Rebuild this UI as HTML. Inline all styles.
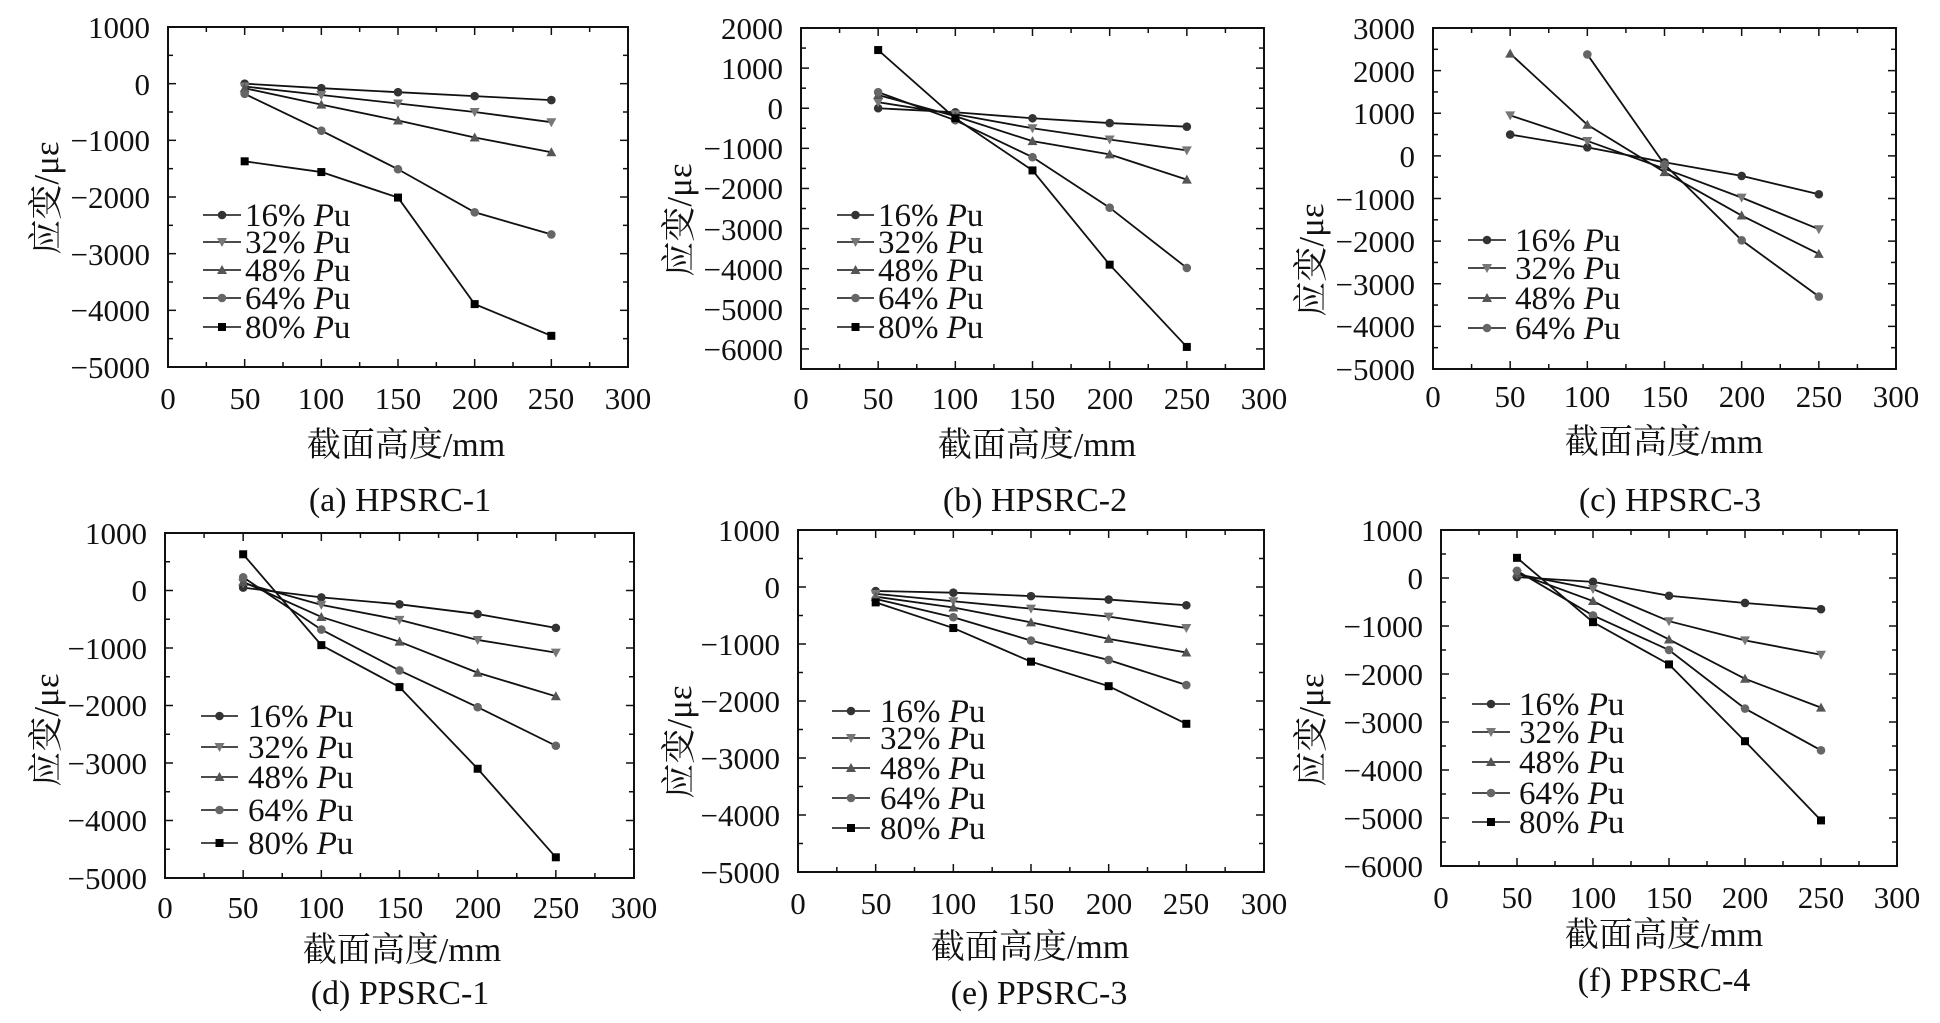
<!DOCTYPE html>
<html><head><meta charset="utf-8"><style>
html,body{margin:0;padding:0;background:#fff;}
svg{display:block;}
svg text{font-family:"Liberation Serif","Noto Serif CJK SC",serif;font-size:31px;fill:#111;}
svg text.e{text-anchor:end}svg text.m{text-anchor:middle}
svg text.lg{font-size:33px}svg text.tt{font-size:34px}svg text.cp{font-size:34px}svg text.yt{font-size:35px}
</style></head><body>
<svg id="s" width="1940" height="1023" viewBox="0 0 1940 1023" xmlns="http://www.w3.org/2000/svg" font-family="Liberation Serif, Noto Serif CJK SC, serif">
<g id="g"></g>
<!-- Panel a -->
<text class="e" x="150" y="38">1000</text><text class="e" x="150" y="95">0</text><text class="e" x="150" y="151">−1000</text><text class="e" x="150" y="208">−2000</text><text class="e" x="150" y="265">−3000</text><text class="e" x="150" y="321">−4000</text><text class="e" x="150" y="378">−5000</text>
<text class="m" x="168" y="409">0</text><text class="m" x="245" y="409">50</text><text class="m" x="321" y="409">100</text><text class="m" x="398" y="409">150</text><text class="m" x="475" y="409">200</text><text class="m" x="551" y="409">250</text><text class="m" x="628" y="409">300</text>
<text class="m tt" x="406" y="456">截面高度/mm</text><text class="m cp" x="400" y="511">(a) HPSRC-1</text>
<text class="m yt" transform="translate(58,198) rotate(-90)">应变/με</text>
<text class="lg" x="245" y="226">16% <tspan font-style="italic">P</tspan>u</text><text class="lg" x="245" y="253">32% <tspan font-style="italic">P</tspan>u</text><text class="lg" x="245" y="281">48% <tspan font-style="italic">P</tspan>u</text><text class="lg" x="245" y="309">64% <tspan font-style="italic">P</tspan>u</text><text class="lg" x="245" y="338">80% <tspan font-style="italic">P</tspan>u</text>
<!-- Panel b -->
<text class="e" x="783" y="39">2000</text><text class="e" x="783" y="79">1000</text><text class="e" x="783" y="119">0</text><text class="e" x="783" y="159">−1000</text><text class="e" x="783" y="199">−2000</text><text class="e" x="783" y="240">−3000</text><text class="e" x="783" y="280">−4000</text><text class="e" x="783" y="320">−5000</text><text class="e" x="783" y="360">−6000</text>
<text class="m" x="801" y="409">0</text><text class="m" x="878" y="409">50</text><text class="m" x="955" y="409">100</text><text class="m" x="1032" y="409">150</text><text class="m" x="1110" y="409">200</text><text class="m" x="1187" y="409">250</text><text class="m" x="1264" y="409">300</text>
<text class="m tt" x="1037" y="456">截面高度/mm</text><text class="m cp" x="1035" y="511">(b) HPSRC-2</text>
<text class="m yt" transform="translate(691,220) rotate(-90)">应变/με</text>
<text class="lg" x="878" y="226">16% <tspan font-style="italic">P</tspan>u</text><text class="lg" x="878" y="253">32% <tspan font-style="italic">P</tspan>u</text><text class="lg" x="878" y="281">48% <tspan font-style="italic">P</tspan>u</text><text class="lg" x="878" y="309">64% <tspan font-style="italic">P</tspan>u</text><text class="lg" x="878" y="338">80% <tspan font-style="italic">P</tspan>u</text>
<!-- Panel c -->
<text class="e" x="1415" y="39">3000</text><text class="e" x="1415" y="82">2000</text><text class="e" x="1415" y="124">1000</text><text class="e" x="1415" y="167">0</text><text class="e" x="1415" y="210">−1000</text><text class="e" x="1415" y="252">−2000</text><text class="e" x="1415" y="295">−3000</text><text class="e" x="1415" y="337">−4000</text><text class="e" x="1415" y="380">−5000</text>
<text class="m" x="1433" y="407">0</text><text class="m" x="1510" y="407">50</text><text class="m" x="1587" y="407">100</text><text class="m" x="1665" y="407">150</text><text class="m" x="1742" y="407">200</text><text class="m" x="1819" y="407">250</text><text class="m" x="1896" y="407">300</text>
<text class="m tt" x="1664" y="453">截面高度/mm</text><text class="m cp" x="1670" y="511">(c) HPSRC-3</text>
<text class="m yt" transform="translate(1323,260) rotate(-90)">应变/με</text>
<text class="lg" x="1515" y="251">16% <tspan font-style="italic">P</tspan>u</text><text class="lg" x="1515" y="279">32% <tspan font-style="italic">P</tspan>u</text><text class="lg" x="1515" y="309">48% <tspan font-style="italic">P</tspan>u</text><text class="lg" x="1515" y="339">64% <tspan font-style="italic">P</tspan>u</text>
<!-- Panel d -->
<text class="e" x="147" y="544">1000</text><text class="e" x="147" y="601">0</text><text class="e" x="147" y="659">−1000</text><text class="e" x="147" y="716">−2000</text><text class="e" x="147" y="774">−3000</text><text class="e" x="147" y="831">−4000</text><text class="e" x="147" y="889">−5000</text>
<text class="m" x="165" y="918">0</text><text class="m" x="243" y="918">50</text><text class="m" x="321" y="918">100</text><text class="m" x="400" y="918">150</text><text class="m" x="478" y="918">200</text><text class="m" x="556" y="918">250</text><text class="m" x="634" y="918">300</text>
<text class="m tt" x="402" y="961">截面高度/mm</text><text class="m cp" x="400" y="1004">(d) PPSRC-1</text>
<text class="m yt" transform="translate(58,730) rotate(-90)">应变/με</text>
<text class="lg" x="248" y="727">16% <tspan font-style="italic">P</tspan>u</text><text class="lg" x="248" y="758">32% <tspan font-style="italic">P</tspan>u</text><text class="lg" x="248" y="788">48% <tspan font-style="italic">P</tspan>u</text><text class="lg" x="248" y="821">64% <tspan font-style="italic">P</tspan>u</text><text class="lg" x="248" y="854">80% <tspan font-style="italic">P</tspan>u</text>
<!-- Panel e -->
<text class="e" x="780" y="541">1000</text><text class="e" x="780" y="598">0</text><text class="e" x="780" y="655">−1000</text><text class="e" x="780" y="712">−2000</text><text class="e" x="780" y="769">−3000</text><text class="e" x="780" y="826">−4000</text><text class="e" x="780" y="883">−5000</text>
<text class="m" x="798" y="914">0</text><text class="m" x="876" y="914">50</text><text class="m" x="953" y="914">100</text><text class="m" x="1031" y="914">150</text><text class="m" x="1109" y="914">200</text><text class="m" x="1186" y="914">250</text><text class="m" x="1264" y="914">300</text>
<text class="m tt" x="1030" y="958">截面高度/mm</text><text class="m cp" x="1039" y="1004">(e) PPSRC-3</text>
<text class="m yt" transform="translate(691,742) rotate(-90)">应变/με</text>
<text class="lg" x="880" y="722">16% <tspan font-style="italic">P</tspan>u</text><text class="lg" x="880" y="749">32% <tspan font-style="italic">P</tspan>u</text><text class="lg" x="880" y="779">48% <tspan font-style="italic">P</tspan>u</text><text class="lg" x="880" y="809">64% <tspan font-style="italic">P</tspan>u</text><text class="lg" x="880" y="839">80% <tspan font-style="italic">P</tspan>u</text>
<!-- Panel f -->
<text class="e" x="1423" y="541">1000</text><text class="e" x="1423" y="589">0</text><text class="e" x="1423" y="637">−1000</text><text class="e" x="1423" y="685">−2000</text><text class="e" x="1423" y="733">−3000</text><text class="e" x="1423" y="781">−4000</text><text class="e" x="1423" y="829">−5000</text><text class="e" x="1423" y="877">−6000</text>
<text class="m" x="1441" y="908">0</text><text class="m" x="1517" y="908">50</text><text class="m" x="1593" y="908">100</text><text class="m" x="1669" y="908">150</text><text class="m" x="1745" y="908">200</text><text class="m" x="1821" y="908">250</text><text class="m" x="1897" y="908">300</text>
<text class="m tt" x="1664" y="946">截面高度/mm</text><text class="m cp" x="1664" y="991">(f) PPSRC-4</text>
<text class="m yt" transform="translate(1323,730) rotate(-90)">应变/με</text>
<text class="lg" x="1519" y="715">16% <tspan font-style="italic">P</tspan>u</text><text class="lg" x="1519" y="743">32% <tspan font-style="italic">P</tspan>u</text><text class="lg" x="1519" y="773">48% <tspan font-style="italic">P</tspan>u</text><text class="lg" x="1519" y="804">64% <tspan font-style="italic">P</tspan>u</text><text class="lg" x="1519" y="833">80% <tspan font-style="italic">P</tspan>u</text>
</svg>
<script>
(function(){
var NS="http://www.w3.org/2000/svg",g=document.getElementById("g");
function el(t,a){var e=document.createElementNS(NS,t);for(var k in a)e.setAttribute(k,a[k]);g.appendChild(e);return e;}
var sty=[["c","#333"],["v","#777"],["t","#555"],["c","#666"],["s","#000"]];
function mk(type,col,x,y){
 if(type=="c")el("circle",{cx:x,cy:y,r:4.3,fill:col});
 else if(type=="s")el("rect",{x:x-4,y:y-4,width:8,height:8,fill:col});
 else if(type=="v")el("polygon",{points:(x-5)+","+(y-4)+" "+(x+5)+","+(y-4)+" "+x+","+(y+5),fill:col});
 else el("polygon",{points:(x-5)+","+(y+4)+" "+(x+5)+","+(y+4)+" "+x+","+(y-5),fill:col});
}
var P=[
 {x0:168,x1:628,yt:27,vt:1000,yb:367,vb:-5000,lx:[203,241],ly:[215,242,270,298,327],
  d:[[0,-80,-150,-220,-290],[-50,-200,-350,-500,-680],[-80,-370,-650,-950,-1210],[-180,-830,-1510,-2270,-2660],[-1370,-1560,-2010,-3890,-4450]]},
 {x0:801,x1:1264,yt:28,vt:2000,yb:369,vb:-6500,lx:[837,874],ly:[215,242,270,298,327],
  d:[[0,-100,-250,-370,-460],[150,-150,-500,-780,-1050],[330,-200,-820,-1150,-1780],[400,-300,-1220,-2480,-3980],[1450,-250,-1550,-3900,-5950]]},
 {x0:1433,x1:1896,yt:28,vt:3000,yb:369,vb:-5000,lx:[1468,1506],ly:[240,268,298,328],
  d:[[500,200,-150,-470,-900],[950,350,-300,-980,-1720],[2400,730,-380,-1400,-2300],[null,2380,-200,-1980,-3300]]},
 {x0:165,x1:634,yt:533,vt:1000,yb:878,vb:-5000,lx:[201,238],ly:[716,747,777,810,843],
  d:[[50,-120,-240,-410,-650],[130,-250,-510,-860,-1080],[150,-460,-890,-1430,-1840],[230,-680,-1390,-2030,-2700],[630,-950,-1680,-3100,-4640]]},
 {x0:798,x1:1264,yt:530,vt:1000,yb:872,vb:-5000,lx:[832,870],ly:[711,738,768,798,828],
  d:[[-70,-100,-160,-220,-320],[-120,-250,-380,-520,-720],[-170,-360,-620,-910,-1150],[-210,-530,-940,-1280,-1720],[-270,-720,-1310,-1740,-2400]]},
 {x0:1441,x1:1897,yt:530,vt:1000,yb:866,vb:-6000,lx:[1472,1510],ly:[704,732,762,793,822],
  d:[[20,-80,-370,-520,-650],[80,-230,-900,-1300,-1600],[100,-480,-1280,-2100,-2700],[150,-780,-1500,-2720,-3590],[420,-920,-1800,-3400,-5050]]}
];
P.forEach(function(p){
 function X(v){return p.x0+(p.x1-p.x0)*v/300;}
 function Y(v){return p.yt+(p.yb-p.yt)*(p.vt-v)/(p.vt-p.vb);}
 el("rect",{x:p.x0,y:p.yt,width:p.x1-p.x0,height:p.yb-p.yt,fill:"none",stroke:"#111","stroke-width":2});
 for(var v=0;v<=300;v+=25){var L=(v%50==0)?8:5,x=X(v);
  el("line",{x1:x,y1:p.yb,x2:x,y2:p.yb-L,stroke:"#111","stroke-width":1.5});
  el("line",{x1:x,y1:p.yt,x2:x,y2:p.yt+L,stroke:"#111","stroke-width":1.5});}
 for(var v=p.vt;v>=p.vb;v-=500){var L=(v%1000==0)?8:5,y=Y(v);
  el("line",{x1:p.x0,y1:y,x2:p.x0+L,y2:y,stroke:"#111","stroke-width":1.5});
  el("line",{x1:p.x1,y1:y,x2:p.x1-L,y2:y,stroke:"#111","stroke-width":1.5});}
 p.d.forEach(function(s,i){
  var pts=[];s.forEach(function(v,j){if(v!==null)pts.push([X(50+50*j),Y(v)]);});
  el("polyline",{points:pts.map(function(q){return q.join(",")}).join(" "),fill:"none",stroke:"#111","stroke-width":1.8});
  pts.forEach(function(q){mk(sty[i][0],sty[i][1],q[0],q[1]);});
  var ly=p.ly[i];
  el("line",{x1:p.lx[0],y1:ly,x2:p.lx[1],y2:ly,stroke:"#111","stroke-width":1.6});
  mk(sty[i][0],sty[i][1],(p.lx[0]+p.lx[1])/2,ly);
 });
});
})();
</script>
</body></html>
